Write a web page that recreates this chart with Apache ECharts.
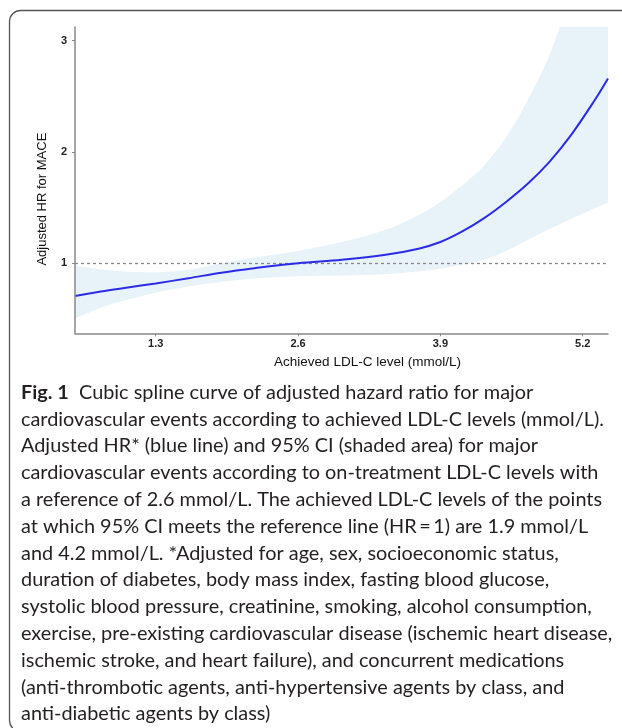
<!DOCTYPE html>
<html>
<head>
<meta charset="utf-8">
<script src="https://cdn.jsdelivr.net/npm/echarts@6/dist/echarts.min.js"></script>
<style>
html,body{margin:0;padding:0;background:#fff;}
#c{width:622px;height:728px;}
</style>
</head>
<body>
<div id="c"></div>
<script>
// ---- data ----
const ldl   = [0.563, 0.8, 1.0, 1.3, 1.6, 1.9, 2.2, 2.6, 3.0, 3.4, 3.7, 3.9, 4.1, 4.3, 4.5, 4.7, 4.9, 5.1, 5.3, 5.431];
const hr    = [0.705, 0.745, 0.775, 0.818, 0.865, 0.915, 0.955, 1.0, 1.03, 1.075, 1.13, 1.19, 1.285, 1.405, 1.55, 1.715, 1.915, 2.16, 2.45, 2.66];
const upper = [0.98, 0.945, 0.925, 0.918, 0.94, 1.0, 1.05, 1.11, 1.19, 1.30, 1.43, 1.55, 1.70, 1.88, 2.13, 2.47, 2.88, 3.45, 4.1, 4.5];
const lower = [0.503, 0.60, 0.66, 0.735, 0.79, 0.83, 0.862, 0.882, 0.89, 0.90, 0.925, 0.95, 0.985, 1.03, 1.11, 1.21, 1.31, 1.40, 1.49, 1.545];
const xTicks = [1.3, 2.6, 3.9, 5.2];
const yTicks = [1, 2, 3];
const refHR = 1;
const xName = 'Achieved LDL-C level (mmol/L)';
const yName = 'Adjusted HR for MACE';
const captionLines = [
  'Cubic spline curve of adjusted hazard ratio for major',
  'cardiovascular events according to achieved LDL-C levels (mmol/L).',
  'Adjusted HR* (blue line) and 95% CI (shaded area) for major',
  'cardiovascular events according to on-treatment LDL-C levels with',
  'a reference of 2.6 mmol/L. The achieved LDL-C levels of the points',
  'at which 95% CI meets the reference line (HR\u2009=\u20091) are 1.9 mmol/L',
  'and 4.2 mmol/L. *Adjusted for age, sex, socioeconomic status,',
  'duration of diabetes, body mass index, fasting blood glucose,',
  'systolic blood pressure, creatinine, smoking, alcohol consumption,',
  'exercise, pre-existing cardiovascular disease (ischemic heart disease,',
  'ischemic stroke, and heart failure), and concurrent medications',
  '(anti-thrombotic agents, anti-hypertensive agents by class, and',
  'anti-diabetic agents by class)'
];
const figLabel = 'Fig. 1';

// ---- build ----
const upperPts = ldl.map((x, i) => [x, upper[i]]);
const lowerPts = ldl.map((x, i) => [x, lower[i]]);
const hrPts    = ldl.map((x, i) => [x, hr[i]]);

const capFont = 'Lato';
const cv = document.createElement('canvas').getContext('2d');
cv.font = '100px ' + capFont;
const w10 = cv.measureText(captionLines[9]).width;
let capSize = 100 * 592 / w10;
if (!isFinite(capSize) || capSize < 12 || capSize > 26) capSize = 19;

const chart = echarts.init(document.getElementById('c'), null, {renderer: 'canvas', width: 622, height: 728});

const graphics = [{
  type: 'rect', z: -10, silent: true,
  shape: {x: 9.5, y: 10.5, width: 640, height: 721, r: 11},
  style: {fill: 'none', stroke: '#555', lineWidth: 1.3}
}];
const base0 = 396.7, lh = 26.8;
captionLines.forEach((t, i) => {
  graphics.push({
    type: 'text', left: 21, top: base0 + i * lh - capSize * 0.72, silent: true,
    style: {
      text: i === 0 ? '{b|' + figLabel + '}  ' + t : t,
      fontFamily: capFont, fontSize: capSize, fill: '#231f20',
      rich: {b: {fontFamily: capFont, fontWeight: 'bold', fontSize: capSize, fill: '#231f20'}}
    }
  });
});

const bandColor = '#e7f3f9';

chart.setOption({
  animation: false,
  backgroundColor: '#fff',
  grid: {left: 75, right: 14, top: 27, bottom: 394.7},
  xAxis: {
    type: 'value', min: 0.563, max: 5.431, z: 10,
    name: xName, nameLocation: 'middle', nameGap: 22,
    nameTextStyle: {fontFamily: 'Liberation Sans', fontSize: 13.5, color: '#111', padding: [0, 0, 0, 52]},
    axisLine: {show: true, lineStyle: {color: '#888', width: 1.5}},
    axisTick: {show: true, length: 3, customValues: xTicks, lineStyle: {color: '#888'}},
    axisLabel: {customValues: xTicks, margin: 5, fontFamily: 'Liberation Sans', fontSize: 11, fontWeight: 'bold', color: '#222',
      formatter: v => v.toFixed(1)},
    splitLine: {show: false}
  },
  yAxis: {
    type: 'value', min: 0.370, max: 3.122, z: 10,
    name: yName, nameLocation: 'middle', nameGap: 26,
    nameTextStyle: {fontFamily: 'Liberation Sans', fontSize: 13, color: '#111', padding: [0, 38, 0, 0]},
    axisLine: {show: true, lineStyle: {color: '#888', width: 1.5}},
    axisTick: {show: true, length: 3, customValues: yTicks, lineStyle: {color: '#888'}},
    axisLabel: {customValues: yTicks, margin: 8, fontFamily: 'Liberation Sans', fontSize: 11, fontWeight: 'bold', color: '#222',
      formatter: v => String(Math.round(v))},
    splitLine: {show: false}
  },
  graphic: graphics,
  series: [
    {
      type: 'line', name: '95% CI upper', data: upperPts, smooth: 0.35,
      symbol: 'none', lineStyle: {width: 0, opacity: 0}, silent: true, z: 1,
      areaStyle: {color: bandColor, opacity: 1, origin: 'start'}
    },
    {
      type: 'line', name: '95% CI lower', data: lowerPts, smooth: 0.35,
      symbol: 'none', lineStyle: {width: 0, opacity: 0}, silent: true, z: 1,
      areaStyle: {color: '#ffffff', opacity: 1, origin: 'start'}
    },
    {
      type: 'line', name: 'Adjusted HR', data: hrPts, smooth: 0.35,
      symbol: 'none', lineStyle: {width: 2, color: '#2b2be6'}, z: 3,
      markLine: {
        silent: true, symbol: 'none', label: {show: false}, z: 2,
        lineStyle: {type: [3, 3], color: '#888', width: 1.3},
        data: [{yAxis: refHR}]
      }
    }
  ]
});
</script>
</body>
</html>
